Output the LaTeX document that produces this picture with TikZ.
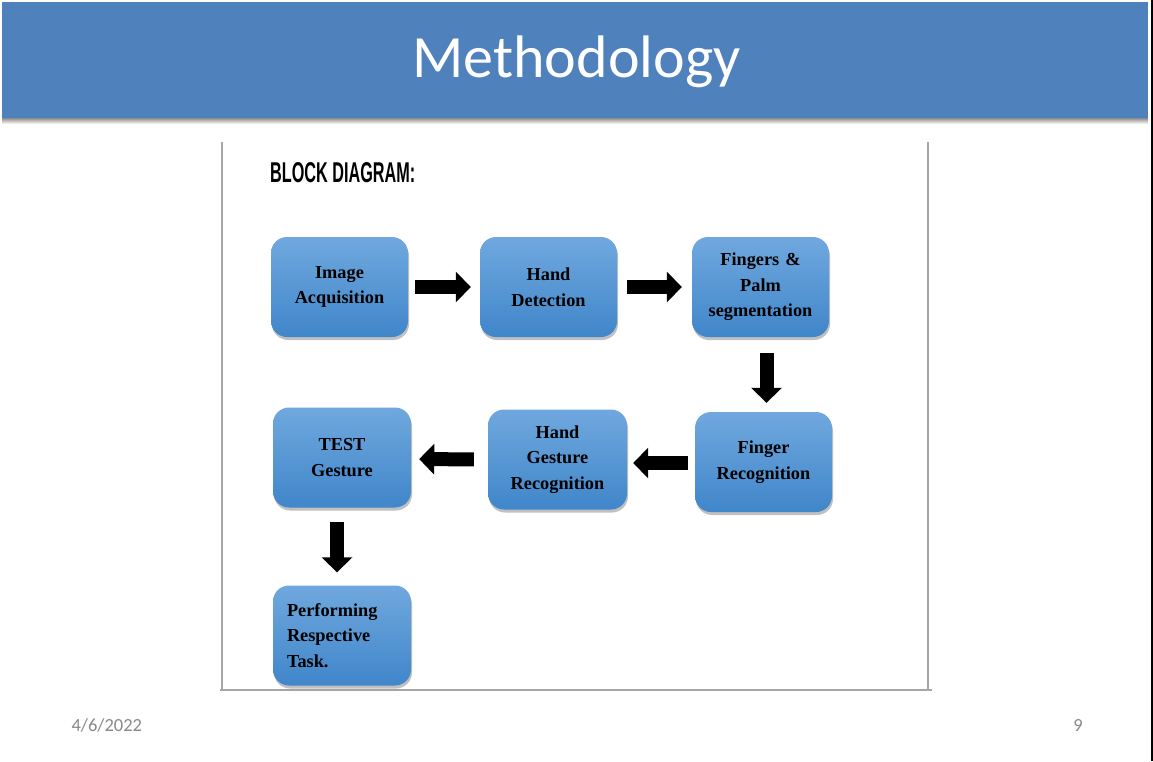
\documentclass[tikz,border=0pt]{standalone}
\usepackage{fontspec}
\usepackage{graphicx}
\setmainfont{Liberation Serif}
\newfontfamily\calib{Carlito}
\newfontfamily\headfont{Liberation Sans}
\usetikzlibrary{arrows.meta,shadows}
\definecolor{titleblue}{RGB}{79,129,189}
\definecolor{boxtop}{RGB}{112,168,222}
\definecolor{boxbot}{RGB}{64,134,202}
\definecolor{framegray}{RGB}{166,166,166}
\definecolor{footgray}{RGB}{137,137,137}
\tikzset{
  blockbox/.style={rectangle, rounded corners=16pt, minimum width=137pt, minimum height=100pt,
    inner sep=0pt, top color=boxtop, bottom color=boxbot, draw=none,
    drop shadow={shadow xshift=1pt, shadow yshift=-3pt, opacity=0.35, fill=black!70},
    font=\fontsize{18.3}{25.5}\selectfont\bfseries, align=center, text width=130pt},
  blockarrow/.style={line width=14pt, draw=black, -{Triangle[width=30pt,length=15pt]}},
  frameline/.style={draw=framegray, line width=1.3pt},
}
\begin{document}
\begin{tikzpicture}[x=1pt,y=-1pt]
\useasboundingbox (0,0) rectangle (1153,761);
\fill[white] (0,0) rectangle (1153,761);
% title bar
\shade[top color=black!45, bottom color=white] (2,118) rectangle (1148,124);
\fill[titleblue] (2,2) rectangle (1148,118);
\draw[black, line width=2pt] (1151.5,0) -- (1151.5,761);
\node[anchor=base, text=white, font=\calib\fontsize{60}{60}\selectfont] (title) at (576.5,77) {Methodology};
% frame
\coordinate (fl1) at (222,142);
\coordinate (fl2) at (222,690);
\coordinate (fr1) at (928,142);
\coordinate (fr2) at (928,690);
\coordinate (fb1) at (220,690);
\coordinate (fb2) at (932,690);
\draw[frameline] (fl1) -- (fl2);
\draw[frameline] (fr1) -- (fr2);
\draw[frameline] (fb1) -- (fb2);
% heading
\node[anchor=south west, inner sep=0pt] (head) at (270,183) {\resizebox{145pt}{20pt}{\headfont\bfseries BLOCK DIAGRAM:}};
% boxes
\node[blockbox] (n1) at (339.5,287) {Image\\Acquisition};
\node[blockbox] (n2) at (548.5,287) {Hand\\Detection};
\node[blockbox] (n3) at (760.5,287) {Fingers \&\\Palm\\segmentation};
\node[blockbox] (n4) at (763.5,462) {Finger\\Recognition};
\node[blockbox, minimum width=139pt] (n5) at (557.5,459.5) {Hand\\Gesture\\Recognition};
\node[blockbox, minimum width=138pt] (n6) at (342,457.5) {TEST\\Gesture};
\node[blockbox, minimum width=138pt, align=left, text width=110pt] (n7) at (342,635.5) {Performing\\Respective\\Task.};
% arrows
\draw[blockarrow, shorten <=7pt, shorten >=9pt] (n1.east) -- (n2.west);
\draw[blockarrow, shorten <=10pt, shorten >=10pt] (n2.east) -- (n3.west);
\draw[blockarrow, shorten <=16pt, shorten >=9pt] ([xshift=6pt]n3.south) -- ([xshift=3pt]n4.north);
\draw[blockarrow, shorten <=7pt, shorten >=6pt] ([yshift=-1pt]n4.west) -- ([yshift=-3.5pt]n5.east);
\draw[blockarrow, shorten <=14pt, shorten >=8pt] (n5.west) -- ([yshift=-1.5pt]n6.east);
\draw[blockarrow, shorten <=14pt, shorten >=13pt] ([xshift=-5pt]n6.south) -- ([xshift=-5pt]n7.north);
% footer
\node[anchor=base west, text=footgray, font=\calib\fontsize{18.5}{18.5}\selectfont] (date) at (68,731) {4/6/2022};
\node[anchor=base, text=footgray, font=\calib\fontsize{18.5}{18.5}\selectfont] (page) at (1078,731) {9};
\end{tikzpicture}
\end{document}
